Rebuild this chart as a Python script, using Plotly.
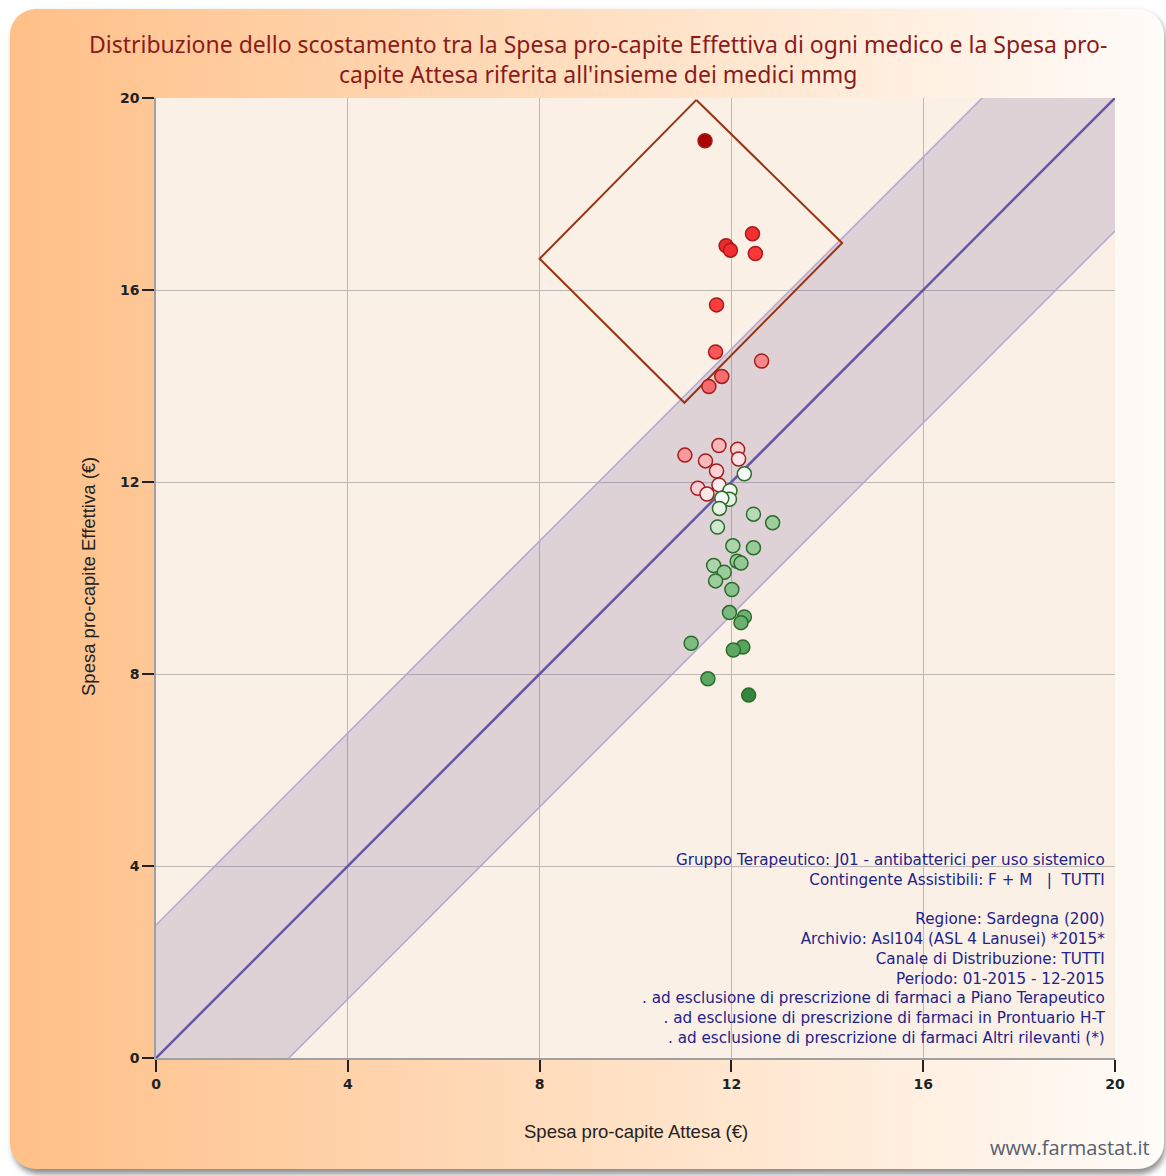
import base64
import plotly.graph_objects as go

# ---------------- data ----------------
spesa_attesa = [11.45, 12.44, 11.89, 11.98, 12.50, 11.69, 11.67, 12.63, 11.80, 11.53,
                11.74, 12.13, 11.03, 12.15, 11.46, 11.69, 12.27, 11.30, 11.74, 11.49,
                11.97, 11.96, 11.80, 11.75, 12.46, 12.86, 11.71, 12.03, 12.46, 12.12,
                12.20, 11.63, 11.85, 11.67, 12.01, 11.96, 12.27, 12.20, 11.16, 12.24,
                12.04, 11.51, 12.36]
spesa_effettiva = [19.11, 17.17, 16.92, 16.83, 16.76, 15.69, 14.71, 14.52, 14.20, 13.99,
                   12.76, 12.68, 12.56, 12.48, 12.44, 12.23, 12.17, 11.87, 11.94, 11.75,
                   11.82, 11.64, 11.66, 11.45, 11.33, 11.15, 11.06, 10.67, 10.63, 10.35,
                   10.31, 10.26, 10.12, 9.94, 9.76, 9.28, 9.19, 9.07, 8.64, 8.56,
                   8.50, 7.90, 7.56]
band_offset = 2.77
axis_range = [0, 20]
tick_values = [0, 4, 8, 12, 16, 20]
diamond_x = [11.27, 14.31, 11.02, 8.00, 11.27]
diamond_y = [19.96, 16.98, 13.65, 16.65, 19.96]

title_text = ("Distribuzione dello scostamento tra la Spesa pro-capite Effettiva di ogni medico e la Spesa pro-<br>"
              "capite Attesa riferita all'insieme dei medici mmg")
x_title = "Spesa pro-capite Attesa (€)"
y_title = "Spesa pro-capite Effettiva (€)"
info_lines = [
    "Gruppo Terapeutico: J01 - antibatterici per uso sistemico",
    "Contingente Assistibili: F + M   |  TUTTI",
    "",
    "Regione: Sardegna (200)",
    "Archivio: Asl104 (ASL 4 Lanusei) *2015*",
    "Canale di Distribuzione: TUTTI",
    "Periodo: 01-2015 - 12-2015",
    ". ad esclusione di prescrizione di farmaci a Piano Terapeutico",
    ". ad esclusione di prescrizione di farmaci in Prontuario H-T",
    ". ad esclusione di prescrizione di farmaci Altri rilevanti (*)",
]
site_text = "www.farmastat.it"

# ---------------- layout geometry ----------------
W, H = 1166, 1176
L, R, T, B = 156, 51, 98, 118
PW, PH = W - L - R, H - T - B

# background panel (gradient) as svg image
svg = f'''<svg xmlns="http://www.w3.org/2000/svg" width="{W}" height="{H}" viewBox="0 0 {W} {H}">
<defs><linearGradient id="g" x1="0" x2="1" y1="0" y2="0">
<stop offset="0" stop-color="#ffc088"/><stop offset="0.55" stop-color="#ffe2c6"/><stop offset="1" stop-color="#fffcf9"/>
</linearGradient>
<filter id="f" x="-5%" y="-5%" width="110%" height="110%"><feGaussianBlur stdDeviation="3"/></filter></defs>
<rect x="13" y="13" width="1152" height="1161" rx="26" fill="#8a8a8a" filter="url(#f)"/>
<rect x="10" y="9" width="1154" height="1160" rx="26" fill="url(#g)"/>
<rect x="{L}" y="{T}" width="{PW}" height="{PH}" fill="#faf0e6"/>
</svg>'''
src = "data:image/svg+xml;base64," + base64.b64encode(svg.encode()).decode()

# ---------------- traces ----------------
lo, hi = axis_range
band_x = [lo, hi - band_offset, hi, hi, lo + band_offset, lo, lo]
band_y = [lo + band_offset, hi, hi, hi - band_offset, lo, lo, lo + band_offset]

fig = go.Figure()
fig.add_trace(go.Scatter(x=band_x, y=band_y, mode="lines", fill="toself",
                         fillcolor="rgba(100,80,150,0.19)", line=dict(width=0),
                         hoverinfo="skip", showlegend=False))
fig.add_trace(go.Scatter(x=[lo, hi - band_offset], y=[lo + band_offset, hi], mode="lines",
                         line=dict(color="#b3a8d2", width=1.5), showlegend=False))
fig.add_trace(go.Scatter(x=[lo + band_offset, hi], y=[lo, hi - band_offset], mode="lines",
                         line=dict(color="#b3a8d2", width=1.5), showlegend=False))
fig.add_trace(go.Scatter(x=[lo, hi], y=[lo, hi], mode="lines",
                         line=dict(color="#6655aa", width=2.5), showlegend=False))
fig.add_trace(go.Scatter(x=diamond_x, y=diamond_y, mode="lines",
                         line=dict(color="#993311", width=2), showlegend=False))

diff = [e - a for a, e in zip(spesa_attesa, spesa_effettiva)]
cmin, cmax = -5.0, 7.7
def pos(v):
    return (v - cmin) / (cmax - cmin)
colorscale = [
    [pos(-5.0), "#2f7f36"], [pos(-3.5), "#5ea964"], [pos(-2.0), "#8fc791"],
    [pos(-1.0), "#bcdcbb"], [pos(-0.3), "#e8f3e6"], [pos(0.0), "#ffffff"],
    [pos(0.5), "#fbd3d6"], [pos(1.5), "#f79ca0"], [pos(2.5), "#f5666a"],
    [pos(4.0), "#ff3b3b"], [pos(5.0), "#ef2a2a"], [pos(7.7), "#a80000"],
]
line_cols = ["#a51c1c" if d > 0 else "#2b6b2b" for d in diff]
fig.add_trace(go.Scatter(x=spesa_attesa, y=spesa_effettiva, mode="markers",
                         marker=dict(size=14, color=diff, colorscale=colorscale,
                                     cmin=cmin, cmax=cmax,
                                     line=dict(color=line_cols, width=1.5)),
                         showlegend=False))

axis_common = dict(range=axis_range, tickvals=tick_values, showgrid=True,
                   gridcolor="#bdb8b4", gridwidth=1, zeroline=False,
                   showline=True, linecolor="#a0a0a0", linewidth=1.5,
                   ticks="outside", ticklen=12, tickcolor="#222", tickwidth=1.5,
                   tickfont=dict(family="DejaVu Sans", size=14, color="#222", weight="bold"),
                   fixedrange=True)

fig.update_layout(
    width=W, height=H,
    margin=dict(l=L, r=R, t=T, b=B),
    paper_bgcolor="white", plot_bgcolor="rgba(0,0,0,0)",
    xaxis=dict(**axis_common),
    yaxis=dict(**axis_common),
    images=[dict(source=src, xref="paper", yref="paper", x=-L / PW, y=1 + T / PH,
                 sizex=W / PW, sizey=H / PH, xanchor="left", yanchor="top",
                 sizing="stretch", layer="below")],
    annotations=[
        dict(text=title_text, xref="paper", yref="paper", x=(598 - L) / PW, y=1 + (98 - 59) / PH,
             xanchor="center", yanchor="middle", showarrow=False, align="center",
             font=dict(family="Noto Sans", size=23, color="#8b1a1a")),
        dict(text=x_title, xref="paper", yref="paper", x=(636 - L) / PW, y=-(1131 - 1058) / PH,
             xanchor="center", yanchor="middle", showarrow=False,
             font=dict(family="Liberation Sans", size=18.5, color="#222")),
        dict(text=y_title, xref="paper", yref="paper", x=-(156 - 88) / PW, y=(1058 - 577) / PH,
             xanchor="center", yanchor="middle", showarrow=False, textangle=-90,
             font=dict(family="Liberation Sans", size=18.5, color="#222")),
        dict(text="<br>".join(info_lines), xref="paper", yref="paper", x=(1107 - L) / PW,
             y=(1058 - 849) / PH, xanchor="right", yanchor="top", showarrow=False, align="right",
             font=dict(family="DejaVu Sans", size=15.2, color="#22228a")),
        dict(text=site_text, xref="paper", yref="paper", x=(1152 - L) / PW, y=-(1147 - 1058) / PH,
             xanchor="right", yanchor="middle", showarrow=False,
             font=dict(family="Open Sans", size=20, color="#556070")),
    ],
)

fig.write_html("out.html", config={"displayModeBar": False},
               post_script="document.body.style.margin='0';")
